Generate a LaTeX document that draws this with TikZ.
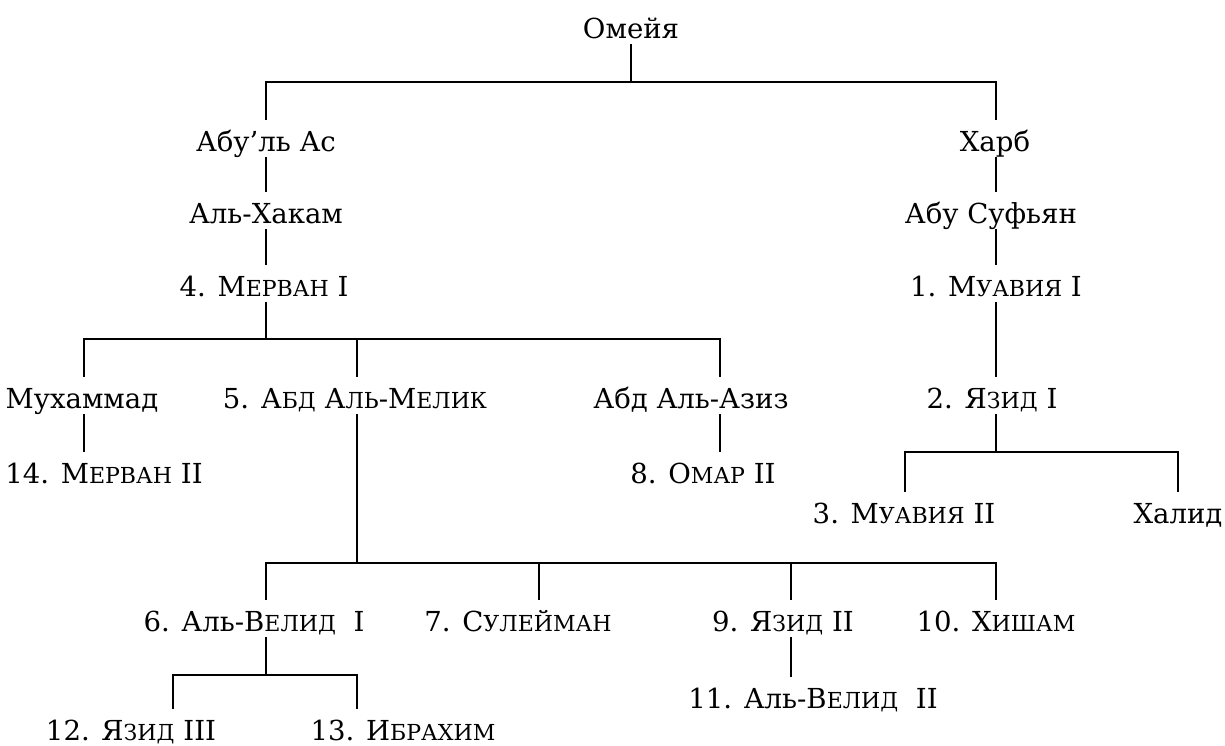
\documentclass[tikz,border=0pt]{standalone}
\usepackage{fontspec}
\setmainfont{DejaVu Serif}[Scale=0.835]
\newcommand\smc[1]{{\fontsize{13.2}{14}\selectfont #1}}
\begin{document}
\begin{tikzpicture}[x=0.5pt,y=-0.5pt,
  nm/.style={anchor=base,inner sep=0pt,text height=15.5pt,text depth=3pt,font=\fontsize{16.5}{19}\selectfont},
  ln/.style={line width=1pt}]
\useasboundingbox (0,0) rectangle (1225,745);
% nodes
\node[nm] (omeya) at (631,38) {Омейя};
\node[nm] (abulas) at (266,151) {Абу’ль Ас};
\node[nm] (harb) at (995,151) {Харб};
\node[nm] (hakam) at (266,223) {Аль-Хакам};
\node[nm] (sufyan) at (991,223) {Абу Суфьян};
\node[nm] (mervan) at (264,296) {4. М\smc{ЕРВАН} I};
\node[nm] (muawiya) at (996,296) {1. М\smc{УАВИЯ} I};
\node[nm] (muh) at (82,408) {Мухаммад};
\node[nm] (abdmelik) at (355,408) {5. А\smc{БД} А\smc{ЛЬ}-М\smc{ЕЛИК}};
\node[nm] (abdaziz) at (691,408) {Абд Аль-Азиз};
\node[nm] (yazid) at (992,408) {2. Я\smc{ЗИД} I};
\node[nm] (mervan2) at (104,483) {14. М\smc{ЕРВАН} II};
\node[nm] (omar) at (703,483) {8. О\smc{МАР} II};
\node[nm] (muawiya2) at (904,523) {3. М\smc{УАВИЯ} II};
\node[nm] (khalid) at (1178,523) {Халид};
\node[nm] (walid) at (254,631) {6. Аль-В\smc{ЕЛИД}\ \ I};
\node[nm] (suleiman) at (518,631) {7. С\smc{УЛЕЙМАН}};
\node[nm] (yazid2) at (783,631) {9. Я\smc{ЗИД} II};
\node[nm] (hisham) at (996,631) {10. Х\smc{ИШАМ}};
\node[nm] (walid2) at (813,708) {11. Аль-В\smc{ЕЛИД}\ \ II};
\node[nm] (yazid3) at (131,740) {12. Я\smc{ЗИД} III};
\node[nm] (ibrahim) at (403,740) {13. И\smc{БРАХИМ}};
% bar coordinates
\coordinate (b1M) at (631,82);
\coordinate (b1L) at (266,82);
\coordinate (b1R) at (996,82);
\coordinate (b2M) at (266,339);
\coordinate (b2L) at (84,339);
\coordinate (b2C) at (357,339);
\coordinate (b2R) at (720,339);
\coordinate (b3M) at (996,452);
\coordinate (b3L) at (905,452);
\coordinate (b3R) at (1178,452);
\coordinate (b4M) at (357,563);
\coordinate (b4A) at (266,563);
\coordinate (b4B) at (539,563);
\coordinate (b4C) at (791,563);
\coordinate (b4D) at (996,563);
\coordinate (b5M) at (266,675);
\coordinate (b5L) at (173,675);
\coordinate (b5R) at (357,675);
% connectors
\draw[ln] (b1M |- omeya.south) -- (b1M);
\draw[ln] (b1L |- abulas.north) -- (b1L) -- (b1R) -- (b1R |- harb.north);
\draw[ln] (b1L |- abulas.south) -- (b1L |- hakam.north);
\draw[ln] (b1L |- hakam.south) -- (b1L |- mervan.north);
\draw[ln] (b1R |- harb.south) -- (b1R |- sufyan.north);
\draw[ln] (b1R |- sufyan.south) -- (b1R |- muawiya.north);
\draw[ln] (b1R |- muawiya.south) -- (b1R |- yazid.north);
\draw[ln] (b2M |- mervan.south) -- (b2M);
\draw[ln] (b2L |- muh.north) -- (b2L) -- (b2R) -- (b2R |- abdaziz.north);
\draw[ln] (b2C) -- (b2C |- abdmelik.north);
\draw[ln] (b2L |- muh.south) -- (b2L |- mervan2.north);
\draw[ln] (b2R |- abdaziz.south) -- (b2R |- omar.north);
\draw[ln] (b3M |- yazid.south) -- (b3M);
\draw[ln] (b3L |- muawiya2.north) -- (b3L) -- (b3R) -- (b3R |- khalid.north);
\draw[ln] (b4M |- abdmelik.south) -- (b4M);
\draw[ln] (b4A |- walid.north) -- (b4A) -- (b4D) -- (b4D |- hisham.north);
\draw[ln] (b4B) -- (b4B |- suleiman.north);
\draw[ln] (b4C) -- (b4C |- yazid2.north);
\draw[ln] (b4C |- yazid2.south) -- (b4C |- walid2.north);
\draw[ln] (b5M |- walid.south) -- (b5M);
\draw[ln] (b5L |- yazid3.north) -- (b5L) -- (b5R) -- (b5R |- ibrahim.north);
\end{tikzpicture}
\end{document}
